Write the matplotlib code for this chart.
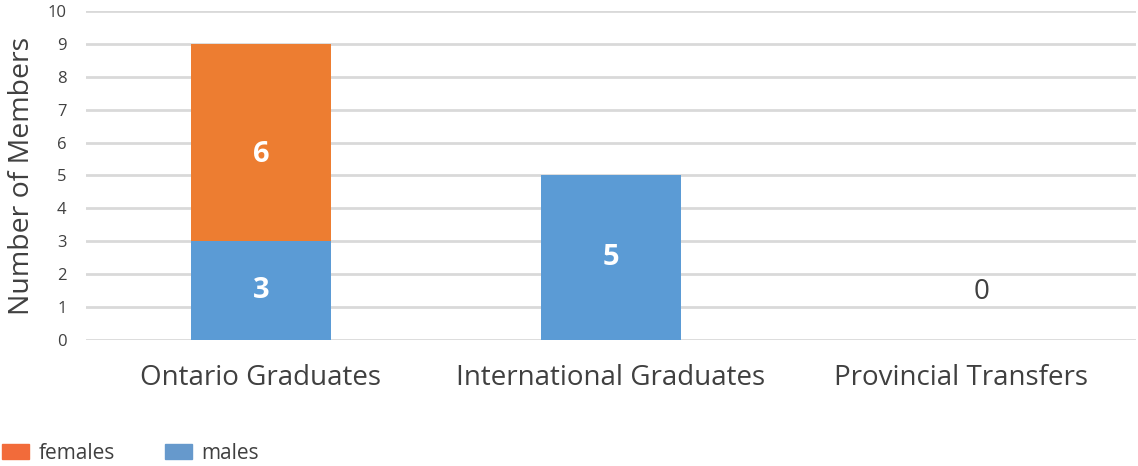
import matplotlib
matplotlib.use("Agg")
import matplotlib.pyplot as plt
from matplotlib.patches import Patch

plt.rcParams['font.family'] = ['Open Sans', 'DejaVu Sans']

categories = ["Ontario Graduates", "International Graduates", "Provincial Transfers"]
males = [3, 5, 0]
females = [6, 0, 0]
total_labels = ["", "", "0"]

c_male = "#5B9BD5"
c_female = "#ED7D31"
grey = "#404040"

fig = plt.figure(figsize=(11.38, 4.66), dpi=100)
ax = fig.add_axes([0.0756, 0.2704, 0.9224, 0.706])

x = list(range(len(categories)))
ax.bar(x, males, width=0.4, color=c_male, zorder=3)
ax.bar(x, females, width=0.4, bottom=males, color=c_female, zorder=3)

for i in x:
    if males[i] > 0:
        ax.text(i, males[i] / 2, str(males[i]), ha="center", va="center",
                color="white", fontsize=21, fontweight="bold", zorder=4)
    if females[i] > 0:
        ax.text(i, males[i] + females[i] / 2 - 0.35, str(females[i]), ha="center", va="center",
                color="white", fontsize=21, fontweight="bold", zorder=4)
    if total_labels[i]:
        ax.text(i + 0.06, 1.45, total_labels[i], ha="center", va="center",
                color=grey, fontsize=20, zorder=4)

ax.set_xlim(-0.5, 2.5)
ax.set_ylim(0, 10)
ax.set_yticks(range(0, 11))
ax.yaxis.grid(True, color="#d9d9d9", linewidth=2, zorder=0)
ax.set_axisbelow(True)
for s in ax.spines.values():
    s.set_visible(False)
ax.tick_params(axis="both", length=0)
ax.tick_params(axis="y", labelsize=12, labelcolor=grey, pad=14)
ax.set_xticks(x)
ax.set_xticklabels(categories, fontsize=20, color=grey)
ax.tick_params(axis="x", pad=17)
ax.set_ylabel("Number of Members", fontsize=20.5, color=grey, labelpad=8)

handles = [Patch(color="#F26B3A", label="females"), Patch(color="#6699CC", label="males")]
fig.legend(handles=handles, loc="lower left", bbox_to_anchor=(0.0, 0.0), ncol=2,
           frameon=False, fontsize=15, handlelength=1.3, handleheight=0.75,
           columnspacing=2.4, handletextpad=0.45, borderpad=0.05, borderaxespad=0.05,
           labelcolor=grey)

fig.savefig("out.png", dpi=100)
